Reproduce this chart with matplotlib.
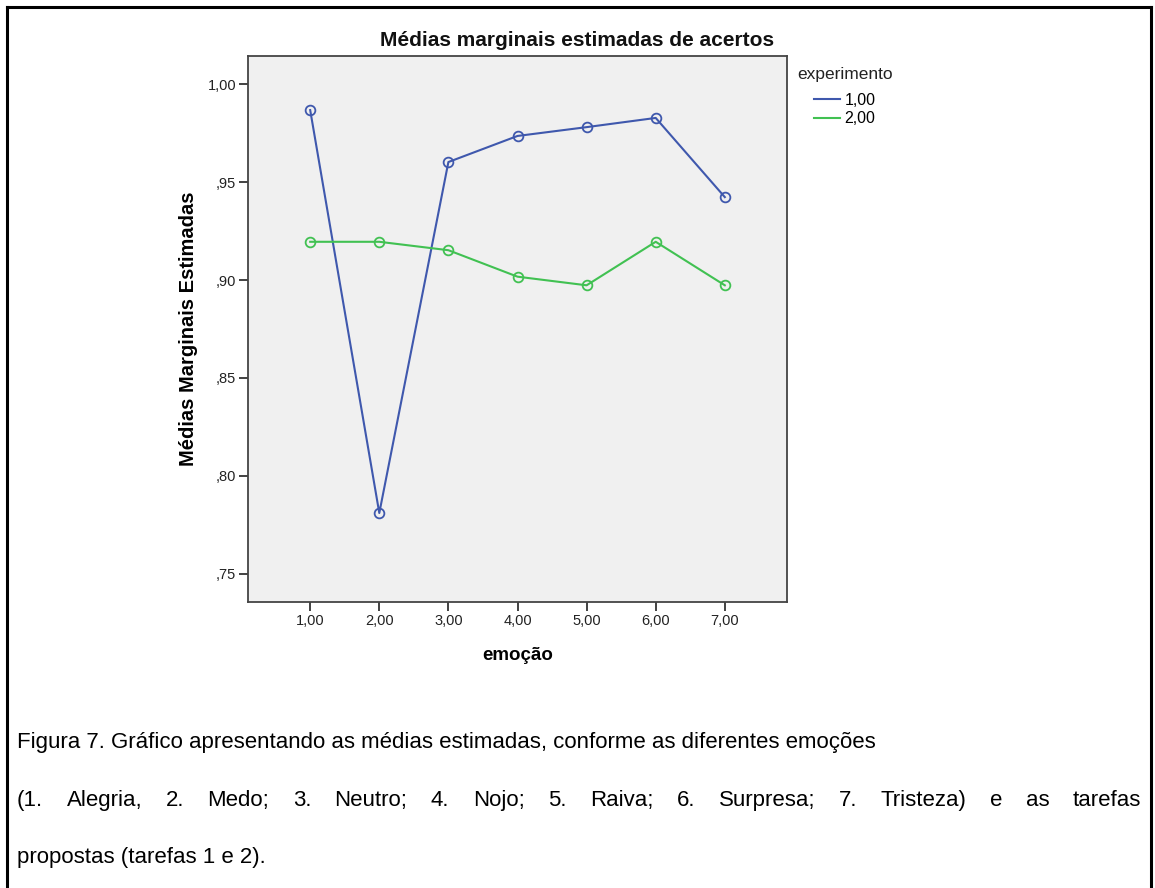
import matplotlib.pyplot as plt
from matplotlib.lines import Line2D

plt.rcParams['font.family'] = ['Liberation Sans', 'DejaVu Sans']

# médias marginais estimadas por emoção e experimento
emocao = [1, 2, 3, 4, 5, 6, 7]
emocao_labels = ['1,00', '2,00', '3,00', '4,00', '5,00', '6,00', '7,00']
exp1 = [0.9867, 0.7811, 0.9602, 0.9735, 0.9780, 0.9827, 0.9423]
exp2 = [0.9195, 0.9195, 0.9152, 0.9017, 0.8973, 0.9195, 0.8973]
y_ticks = [0.75, 0.80, 0.85, 0.90, 0.95, 1.00]
y_labels = [',75', ',80', ',85', ',90', ',95', '1,00']
legenda = ['1,00', '2,00']

azul = '#3f58ad'
verde = '#41c152'

fig = plt.figure(figsize=(11.55, 8.88), dpi=100)

# moldura da figura (célula da tabela)
fig.add_artist(Line2D([7/1155, 7/1155], [0, 1 - 7/888], color='black', lw=2.2))
fig.add_artist(Line2D([7/1155, 1151/1155], [1 - 7/888, 1 - 7/888], color='black', lw=2.2))
fig.add_artist(Line2D([1151/1155, 1151/1155], [0, 1 - 7/888], color='black', lw=2.2))

ax = fig.add_axes([248/1155, 1 - 602/888, (787 - 248)/1155, (602 - 56)/888])
ax.set_facecolor('#f0f0f0')

l1, = ax.plot(emocao, exp1, color=azul, lw=1.5, marker='o', ms=7,
              mfc='none', mec=azul, mew=1.3)
l2, = ax.plot(emocao, exp2, color=verde, lw=1.5, marker='o', ms=7,
              mfc='none', mec=verde, mew=1.3)

ax.set_xlim(0.1, 7.9)
ax.set_ylim(0.7357, 1.0143)
ax.set_xticks(emocao)
ax.set_xticklabels(emocao_labels)
ax.set_yticks(y_ticks)
ax.set_yticklabels(y_labels)
ax.tick_params(axis='both', direction='out', length=6.5, width=1.3,
               color='#333333', labelsize=10.5, labelcolor='#222222', pad=2)
ax.tick_params(axis='x', pad=2)
for s in ax.spines.values():
    s.set_color('#444444')
    s.set_linewidth(1.3)

ax.set_xlabel('emoção', fontsize=13.5, fontweight='bold', labelpad=14)
ax.set_ylabel('Médias Marginais Estimadas', fontsize=14.5, fontweight='bold', labelpad=7)

fig.text(577/1155, 1 - 40/888, 'Médias marginais estimadas de acertos',
         ha='center', va='center', fontsize=15, fontweight='bold', color='#111111')

# legenda
fig.text(797/1155, 1 - 74/888, 'experimento', ha='left', va='center',
         fontsize=12.5, color='#222222')
ax.legend([l1, l2], legenda, loc='upper left', bbox_to_anchor=(814/1155, 1 - 93/888),
          bbox_transform=fig.transFigure, frameon=False, fontsize=11.5,
          handlelength=1.6, handletextpad=0.3, labelspacing=0.2,
          borderaxespad=0, borderpad=0)
leg = ax.get_legend()
for h in leg.legend_handles:
    h.set_marker('')

# legenda da figura
fs = 16
fig.text(17/1155, 1 - 742/888,
         'Figura 7. Gráfico apresentando as médias estimadas, conforme as diferentes emoções',
         ha='left', va='center', fontsize=fs)
fig.text(17/1155, 1 - 857/888, 'propostas (tarefas 1 e 2).',
         ha='left', va='center', fontsize=fs)

# linha justificada
palavras = '(1. Alegria, 2. Medo; 3. Neutro; 4. Nojo; 5. Raiva; 6. Surpresa; 7. Tristeza) e as tarefas'.split()
renderer = fig.canvas.get_renderer()
textos = [fig.text(0, 1 - 800/888, p, ha='left', va='center', fontsize=fs) for p in palavras]
larguras = [t.get_window_extent(renderer).width for t in textos]
x0, x1 = 17, 1141
gap = (x1 - x0 - sum(larguras)) / (len(palavras) - 1)
x = x0
for t, w in zip(textos, larguras):
    t.set_x(x / 1155)
    x += w + gap

fig.savefig('out.png', dpi=100, facecolor='white')
